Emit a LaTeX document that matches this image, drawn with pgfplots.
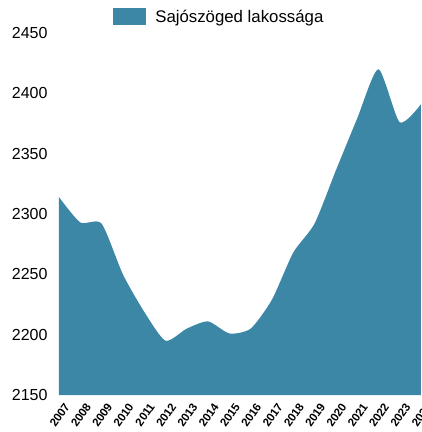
\documentclass[border=0pt]{standalone}
\usepackage{pgfplots}
\pgfplotsset{compat=1.18}
\usepackage{fontspec}
\setmainfont{Liberation Sans}
\definecolor{areacol}{RGB}{60,135,166}
\begin{document}
\begin{tikzpicture}
\begin{axis}[
  scale only axis, width=362pt, height=362pt,
  xmin=2007, xmax=2024, ymin=2150, ymax=2450,
  axis line style={draw=none},
  major tick length=0pt,
  xtick={2007,2008,...,2024},
  ytick={2150,2200,...,2450},
  /pgf/number format/1000 sep={},
  /pgf/number format/assume math mode=true,
  yticklabel style={font=\fontsize{16}{18}\selectfont, xshift=-8pt},
  xticklabel style={font=\bfseries\fontsize{11.5}{12}\selectfont, rotate=55, anchor=east, inner sep=0pt, yshift=-12pt, xshift=-3pt},
  legend style={at={(0.443,1.044)}, anchor=center, draw=none, fill=none, font=\fontsize{16.8}{18}\selectfont,
    /tikz/every odd column/.append style={column sep=7pt}},
  legend cell align=left,
]
\addplot[fill=areacol, draw=none, smooth, tension=0.4,
  legend image code/.code={\fill[areacol] (-12pt,-8pt) rectangle (21pt,9pt);}]
coordinates {
(2007,2314) (2008,2293) (2009,2292) (2010,2250) (2011,2219)
(2012,2195) (2013,2205) (2014,2211) (2015,2201) (2016,2205)
(2017,2229) (2018,2268) (2019,2292) (2020,2336) (2021,2379)
(2022,2420) (2023,2376) (2024,2391)
} \closedcycle;
\addlegendentry{Sajószöged lakossága}
\end{axis}
\pgfresetboundingbox
\path[use as bounding box] (-59pt,-37pt) rectangle (363pt,395pt);
\end{tikzpicture}
\end{document}
